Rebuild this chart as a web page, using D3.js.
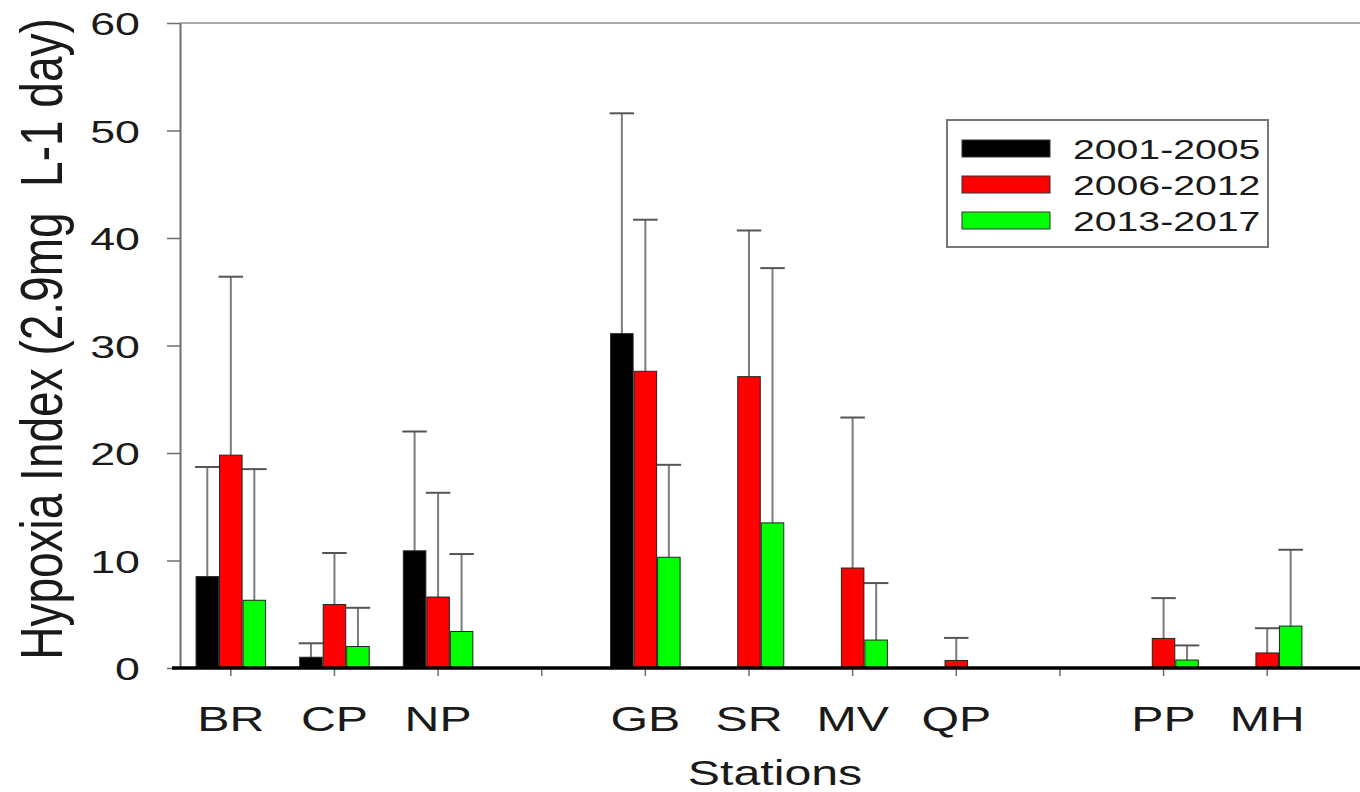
<!DOCTYPE html>
<html>
<head>
  <meta charset="utf-8">
  <title>Hypoxia Index by Station</title>
  <style>
    body { margin: 0; background: #fff; }
    text { font-family: "Liberation Sans", Arial, sans-serif; fill: #1a1a1a; }
  </style>
</head>
<body>

  <script src="https://cdn.jsdelivr.net/npm/d3@7/dist/d3.min.js"></script>

  <script>
    // data (mean and upper error = SD)
    var stations = ["BR", "CP", "NP", "gap1", "GB", "SR", "MV", "QP", "gap2", "PP", "MH"];
    var periods = ["2001-2005", "2006-2012", "2013-2017"];
    var colors = ["#000000", "#ff0000", "#00ff00"];

    var mean2001 = [8.5, 1.0, 10.9, null, 31.1, null, null, null, null, null, null];
    var sd2001   = [10.2, 1.3, 11.1, null, 20.5, null, null, null, null, null, null];
    var mean2006 = [19.8, 5.9, 6.6, null, 27.6, 27.1, 9.3, 0.7, null, 2.75, 1.4];
    var sd2006   = [16.6, 4.8, 9.7, null, 14.1, 13.6, 14.0, 2.1, null, 3.75, 2.3];
    var mean2013 = [6.3, 2.0, 3.4, null, 10.3, 13.5, 2.6, null, null, 0.74, 3.9];
    var sd2013   = [12.2, 3.6, 7.2, null, 8.6, 23.7, 5.3, null, null, 1.36, 7.1];

    var yTicks = [0, 10, 20, 30, 40, 50, 60];

    var means = [mean2001, mean2006, mean2013];
    var sds = [sd2001, sd2006, sd2013];

    // flatten to one record per bar
    var bars = [];
    periods.forEach(function(p, i) {
      stations.forEach(function(s, j) {
        if (means[i][j] != null) {
          bars.push({station: s, series: i, value: means[i][j], sd: sds[i][j]});
        }
      });
    });

    var width = 1360, height = 792;
    var barW = 22.5, barStep = 23.5;

    var x = d3.scaleBand().domain(stations).range([179, 1319]);
    var y = d3.scaleLinear().domain([0, 60]).range([668, 23]);

    var svg = d3.select("body").append("svg")
      .attr("width", width)
      .attr("height", height);

    // top frame line
    svg.append("line")
      .attr("x1", 180).attr("x2", width)
      .attr("y1", y(60)).attr("y2", y(60))
      .attr("stroke", "#a8a8a8")
      .attr("stroke-width", 2);

    // y axis
    var yAxis = d3.axisLeft(y)
      .tickValues(yTicks)
      .tickSize(13)
      .tickSizeOuter(0)
      .tickPadding(0);

    var gy = svg.append("g")
      .attr("transform", "translate(180,0)")
      .call(yAxis);
    gy.select(".domain").attr("stroke", "#6e6e6e").attr("stroke-width", 2);
    gy.selectAll(".tick line").attr("stroke", "#6e6e6e").attr("stroke-width", 1.5);
    gy.selectAll(".tick text")
      .attr("font-size", "32px")
      .attr("x", -40 / 1.4)
      .attr("dy", "0.36em")
      .attr("transform", "scale(1.4,1)")
      .style("fill", "#1a1a1a");

    // error bars (behind bars)
    var err = svg.append("g");
    bars.forEach(function(d) {
      var cx = x(d.station) + x.bandwidth() / 2 + (d.series - 1) * barStep;
      err.append("line")
        .attr("x1", cx).attr("x2", cx)
        .attr("y1", y(d.value)).attr("y2", y(d.value + d.sd))
        .attr("stroke", "#7c7c7c")
        .attr("stroke-width", 2);
      err.append("line")
        .attr("x1", cx - barW / 2 - 1).attr("x2", cx + barW / 2 + 1)
        .attr("y1", y(d.value + d.sd)).attr("y2", y(d.value + d.sd))
        .attr("stroke", "#555")
        .attr("stroke-width", 2);
    });

    // bars
    svg.append("g").selectAll("rect")
      .data(bars)
      .enter()
      .append("rect")
      .attr("x", function(d) { return x(d.station) + x.bandwidth() / 2 + (d.series - 1) * barStep - barW / 2; })
      .attr("y", function(d) { return y(d.value); })
      .attr("width", barW)
      .attr("height", function(d) { return y(0) - y(d.value); })
      .attr("fill", function(d) { return colors[d.series]; })
      .attr("stroke", "#222")
      .attr("stroke-width", 1);

    // x axis
    var xAxis = d3.axisBottom(x)
      .tickSize(8)
      .tickSizeOuter(0)
      .tickFormat(function(d) { return d.indexOf("gap") === 0 ? "" : d; });

    var gx = svg.append("g")
      .attr("transform", "translate(0," + y(0) + ")")
      .call(xAxis);
    gx.select(".domain").remove();
    gx.selectAll(".tick line").attr("stroke", "#6e6e6e").attr("stroke-width", 1.5);
    gx.selectAll(".tick text")
      .attr("font-size", "35px")
      .attr("y", 63)
      .attr("dy", 0)
      .attr("transform", "scale(1.38,1)")
      .attr("x", 0)
      .style("fill", "#1a1a1a");
    // undo the scale on tick group positions: put label under tick
    gx.selectAll(".tick").each(function(d) {
      d3.select(this).select("text")
        .attr("transform", "scale(1.38,1)");
    });

    svg.append("line")
      .attr("x1", 172).attr("x2", width)
      .attr("y1", y(0)).attr("y2", y(0))
      .attr("stroke", "#000")
      .attr("stroke-width", 3.5);

    // x axis title
    svg.append("text")
      .attr("transform", "translate(775,785) scale(1.38,1)")
      .attr("text-anchor", "middle")
      .attr("font-size", "35px")
      .text("Stations");

    // y axis title
    svg.append("text")
      .attr("transform", "translate(62,339) scale(1.28,1) rotate(-90)")
      .attr("text-anchor", "middle")
      .attr("font-size", "46px")
      .text("Hypoxia Index (2.9mg\u00a0\u00a0L-1 day)");

    // legend
    var legend = svg.append("g");
    legend.append("rect")
      .attr("x", 947).attr("y", 120)
      .attr("width", 321).attr("height", 127)
      .attr("fill", "#fff")
      .attr("stroke", "#777")
      .attr("stroke-width", 2);

    periods.forEach(function(p, i) {
      legend.append("rect")
        .attr("x", 962).attr("y", 140 + i * 36)
        .attr("width", 88).attr("height", 17)
        .attr("fill", colors[i])
        .attr("stroke", "#333")
        .attr("stroke-width", 1);
      legend.append("text")
        .attr("transform", "translate(1073," + (159 + i * 36) + ") scale(1.4,1)")
        .attr("font-size", "28px")
        .text(p);
    });
  </script>

</body>
</html>
